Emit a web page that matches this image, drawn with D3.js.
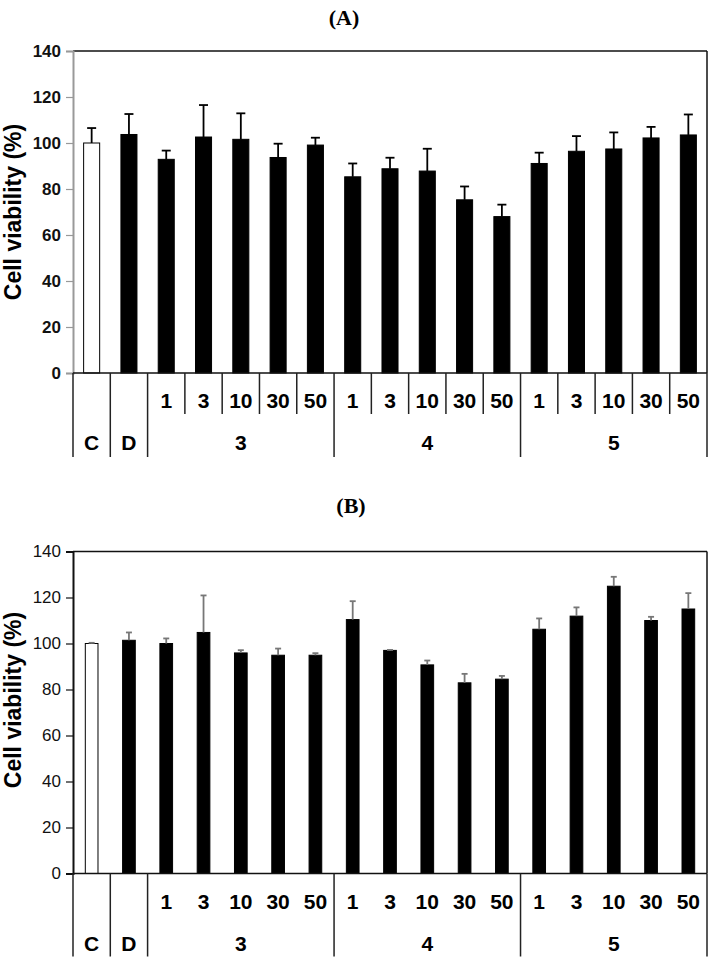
<!DOCTYPE html>
<html lang="en">
<head>
<meta charset="UTF-8">
<title>Cell viability</title>
<script src="https://cdn.jsdelivr.net/npm/d3@7"></script>
<style>
  body { margin: 0; background: #fff; }
  svg { display: block; }
  text { font-family: Arial, "Liberation Sans", sans-serif; }
</style>
</head>
<body>
<script>
// ---- data ----
const groups = ['C', 'D', '3', '4', '5']
const concentrations = ['1', '3', '10', '30', '50']
const yTicks = [0, 20, 40, 60, 80, 100, 120, 140]

// panel A
const meanA = [100, 103.7, 92.9, 102.6, 101.6, 93.7, 99.1, 85.3, 88.8, 87.8, 75.3, 68.0, 91.1, 96.4, 97.4, 102.2, 103.5]
const sdA = [6.5, 8.9, 3.8, 13.9, 11.3, 6.0, 3.2, 5.8, 4.8, 9.7, 5.8, 5.2, 4.7, 6.6, 7.2, 4.8, 8.9]

// panel B
const meanB = [100, 101.4, 100, 104.8, 95.9, 94.9, 94.9, 110.4, 97.0, 90.7, 82.9, 84.5, 106.2, 111.9, 124.9, 110.0, 115.0]
const sdB = [0.3, 3.4, 2.2, 16.1, 1.2, 2.9, 0.9, 8.0, 0.2, 1.9, 3.9, 1.4, 4.7, 3.8, 4.1, 1.6, 6.9]

// one entry per bar: control, DMSO, then 5 concentrations for each compound
const categories = []
groups.forEach(g => {
  if (g === 'C' || g === 'D') categories.push({ group: g, conc: null })
  else concentrations.forEach(c => categories.push({ group: g, conc: c }))
})

const width = 709
const height = 959

const svg = d3.select('body').append('svg')
  .attr('width', width)
  .attr('height', height)

function drawPanel(opt) {
  const top = opt.top
  const bottom = top + 322

  const x = d3.scaleBand()
    .domain(d3.range(categories.length))
    .range([73, 707])
    .padding(0)

  const y = d3.scaleLinear()
    .domain([0, 140])
    .range([bottom, top])

  const g = svg.append('g')

  // title
  g.append('text')
    .attr('x', opt.titleX)
    .attr('y', opt.titleY)
    .attr('text-anchor', 'middle')
    .style('font-family', '"Times New Roman", "Liberation Serif", serif')
    .style('font-weight', 'bold')
    .style('font-size', '22px')
    .text(opt.title)

  // frame: top and right lines
  g.append('line')
    .attr('x1', x.range()[0]).attr('x2', x.range()[1])
    .attr('y1', top).attr('y2', top)
    .attr('stroke', '#111').attr('stroke-width', 1.5)
  g.append('line')
    .attr('x1', x.range()[1]).attr('x2', x.range()[1])
    .attr('y1', top).attr('y2', bottom)
    .attr('stroke', '#111').attr('stroke-width', 1.5)

  // y axis
  const yAxis = g.append('g')
    .attr('transform', `translate(${x.range()[0]},0)`)
    .call(d3.axisLeft(y).tickValues(yTicks).tickSize(7).tickPadding(5))
  yAxis.select('.domain').attr('stroke', opt.axisColor).attr('stroke-width', 2)
  yAxis.selectAll('.tick line').attr('stroke', opt.axisColor).attr('stroke-width', 1.2)
  yAxis.selectAll('.tick text')
    .style('font-family', 'Arial, "Liberation Sans", sans-serif')
    .style('font-size', '17px')
    .style('font-weight', opt.tickWeight)
    .attr('fill', '#111')

  // y label
  g.append('text')
    .attr('transform', `translate(21,${opt.labelY}) rotate(-90)`)
    .attr('text-anchor', 'middle')
    .style('font-size', '23px')
    .style('font-weight', 'bold')
    .text('Cell viability (%)')

  const barW = x.bandwidth() * opt.barFrac

  // bars
  g.selectAll('rect.bar')
    .data(categories)
    .enter()
    .append('rect')
    .attr('class', 'bar')
    .attr('x', (d, i) => x(i) + (x.bandwidth() - barW) / 2)
    .attr('y', (d, i) => y(opt.mean[i]))
    .attr('width', barW)
    .attr('height', (d, i) => y(0) - y(opt.mean[i]))
    .attr('fill', d => d.group === 'C' ? '#fff' : '#000')
    .attr('stroke', '#000')
    .attr('stroke-width', 1)

  // error bars (upper only)
  const capW = opt.capW
  const err = g.selectAll('g.err')
    .data(categories)
    .enter()
    .append('g')
    .attr('class', 'err')
    .attr('stroke', opt.errColor)
    .attr('stroke-width', 1.8)
  err.append('line')
    .attr('x1', (d, i) => x(i) + x.bandwidth() / 2)
    .attr('x2', (d, i) => x(i) + x.bandwidth() / 2)
    .attr('y1', (d, i) => y(opt.mean[i]))
    .attr('y2', (d, i) => y(opt.mean[i] + opt.sd[i]))
  err.append('line')
    .attr('x1', (d, i) => x(i) + x.bandwidth() / 2 - capW / 2)
    .attr('x2', (d, i) => x(i) + x.bandwidth() / 2 + capW / 2)
    .attr('y1', (d, i) => y(opt.mean[i] + opt.sd[i]))
    .attr('y2', (d, i) => y(opt.mean[i] + opt.sd[i]))

  // x axis line
  g.append('line')
    .attr('x1', x.range()[0]).attr('x2', x.range()[1])
    .attr('y1', bottom).attr('y2', bottom)
    .attr('stroke', '#111').attr('stroke-width', 1.5)

  // category table below the axis
  const groupSpans = groups.map(grp => {
    const idx = categories.map((c, i) => c.group === grp ? i : -1).filter(i => i >= 0)
    return { group: grp, start: x(idx[0]), end: x(idx[idx.length - 1]) + x.bandwidth() }
  })

  // long dividers at group edges
  const edges = [groupSpans[0].start].concat(groupSpans.map(s => s.end))
  g.selectAll('line.gdiv')
    .data(edges)
    .enter()
    .append('line')
    .attr('class', 'gdiv')
    .attr('x1', d => d).attr('x2', d => d)
    .attr('y1', bottom).attr('y2', bottom + opt.longDiv)
    .attr('stroke', '#222').attr('stroke-width', 1.5)

  // short dividers between concentrations (panel A only)
  if (opt.shortDiv) {
    const inner = categories
      .map((c, i) => (c.conc !== null && c.conc !== '1') ? x(i) : null)
      .filter(v => v !== null)
    g.selectAll('line.cdiv')
      .data(inner)
      .enter()
      .append('line')
      .attr('class', 'cdiv')
      .attr('x1', d => d).attr('x2', d => d)
      .attr('y1', bottom).attr('y2', bottom + opt.shortDiv)
      .attr('stroke', '#222').attr('stroke-width', 1.5)
  }

  // concentration labels
  g.selectAll('text.conc')
    .data(categories.filter(c => c.conc !== null))
    .enter()
    .append('text')
    .attr('class', 'conc')
    .attr('x', d => x(categories.indexOf(d)) + x.bandwidth() / 2)
    .attr('y', bottom + opt.concY)
    .attr('text-anchor', 'middle')
    .style('font-size', '21px')
    .style('font-weight', 'bold')
    .text(d => d.conc)

  // group labels
  g.selectAll('text.grp')
    .data(groupSpans)
    .enter()
    .append('text')
    .attr('class', 'grp')
    .attr('x', d => (d.start + d.end) / 2)
    .attr('y', bottom + opt.groupY)
    .attr('text-anchor', 'middle')
    .style('font-size', '21px')
    .style('font-weight', 'bold')
    .text(d => d.group)
}

drawPanel({
  title: '(A)', titleX: 344, titleY: 25,
  top: 51, labelY: 212,
  mean: meanA, sd: sdA,
  axisColor: '#999', tickWeight: 'bold',
  barFrac: 0.43, capW: 9, errColor: '#000',
  longDiv: 84, shortDiv: 41, concY: 35, groupY: 77
})

drawPanel({
  title: '(B)', titleX: 351, titleY: 513,
  top: 551.5, labelY: 700,
  mean: meanB, sd: sdB,
  axisColor: '#111', tickWeight: 'normal',
  barFrac: 0.34, capW: 6, errColor: '#777',
  longDiv: 83, shortDiv: 0, concY: 35, groupY: 77
})
</script>
</body>
</html>
